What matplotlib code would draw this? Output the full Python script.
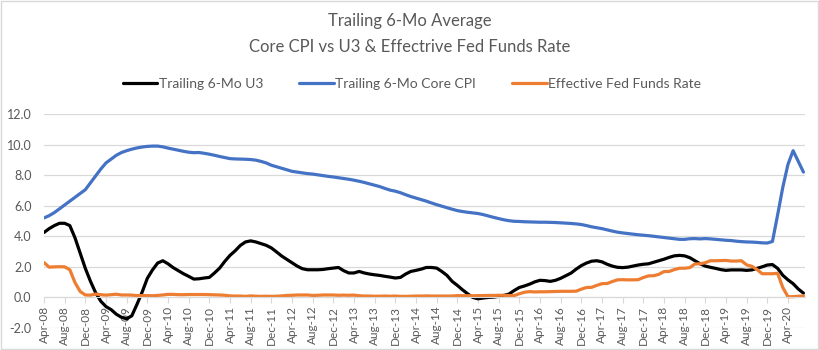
import numpy as np
import pandas as pd
import matplotlib
matplotlib.use('Agg')
import matplotlib.pyplot as plt
from matplotlib.patches import Rectangle
from matplotlib.ticker import FormatStrFormatter

# monthly, Apr-08 .. Jul-20
months = pd.date_range('2008-04-01', periods=148, freq='MS')
month_labels = [d.strftime('%b-%y') for d in months]

u3 = [
    4.25, 4.5, 4.7, 4.85, 4.85, 4.7, 3.9, 2.9, 1.9,                       # 2008 Apr-Dec
    1.05, 0.3, -0.25, -0.6, -0.8, -1.1, -1.3, -1.4, -1.2, -0.45, 0.35, 1.25,  # 2009
    1.8, 2.25, 2.4, 2.2, 1.95, 1.75, 1.55, 1.38, 1.2, 1.22, 1.27, 1.31,   # 2010
    1.6, 1.92, 2.36, 2.75, 3.05, 3.4, 3.63, 3.7, 3.63, 3.52, 3.41, 3.24,  # 2011
    2.98, 2.71, 2.49, 2.27, 2.05, 1.88, 1.81, 1.81, 1.81, 1.83, 1.88, 1.92,  # 2012
    1.96, 1.75, 1.6, 1.6, 1.7, 1.6, 1.53, 1.48, 1.44, 1.38, 1.33, 1.27,   # 2013
    1.31, 1.53, 1.7, 1.77, 1.85, 1.96, 1.96, 1.92, 1.7, 1.44, 1.05, 0.79,  # 2014
    0.5, 0.24, 0.0, -0.09, -0.04, 0.0, 0.02, 0.07, 0.13, 0.22, 0.45, 0.65,  # 2015
    0.75, 0.87, 1.02, 1.12, 1.1, 1.05, 1.12, 1.25, 1.42, 1.59, 1.85, 2.08,  # 2016
    2.25, 2.37, 2.4, 2.33, 2.17, 2.05, 1.97, 1.95, 1.98, 2.05, 2.12, 2.17,  # 2017
    2.2, 2.3, 2.4, 2.5, 2.62, 2.72, 2.75, 2.72, 2.6, 2.4, 2.2, 2.05,      # 2018
    1.97, 1.9, 1.82, 1.77, 1.8, 1.8, 1.8, 1.77, 1.8, 1.9, 2.0, 2.12,      # 2019
    2.15, 1.9, 1.45, 1.15, 0.9, 0.55, 0.28,                               # 2020 Jan-Jul
]

core_cpi = [
    5.2, 5.35, 5.55, 5.8, 6.05, 6.3, 6.55, 6.8, 7.05,
    7.5, 7.95, 8.4, 8.8, 9.05, 9.3, 9.48, 9.6, 9.7, 9.78, 9.84, 9.88,
    9.9, 9.9, 9.85, 9.77, 9.7, 9.63, 9.56, 9.5, 9.47, 9.48, 9.43, 9.37,
    9.3, 9.22, 9.15, 9.08, 9.06, 9.05, 9.04, 9.02, 8.98, 8.9, 8.8, 8.65,
    8.55, 8.45, 8.35, 8.25, 8.2, 8.15, 8.1, 8.07, 8.02, 7.97, 7.92, 7.88,
    7.83, 7.78, 7.73, 7.67, 7.6, 7.52, 7.43, 7.34, 7.25, 7.13, 7.02, 6.95,
    6.85, 6.72, 6.6, 6.5, 6.4, 6.3, 6.18, 6.07, 5.97, 5.87, 5.77, 5.68,
    5.62, 5.57, 5.53, 5.49, 5.42, 5.33, 5.24, 5.16, 5.08, 5.02, 4.98, 4.97,
    4.95, 4.94, 4.93, 4.92, 4.92, 4.91, 4.9, 4.88, 4.86, 4.84, 4.81, 4.77,
    4.7, 4.62, 4.56, 4.5, 4.42, 4.34, 4.27, 4.22, 4.18, 4.14, 4.1, 4.07,
    4.04, 4.0, 3.96, 3.92, 3.88, 3.84, 3.8, 3.8, 3.84, 3.85, 3.83, 3.85,
    3.83, 3.8, 3.77, 3.74, 3.72, 3.68, 3.65, 3.63, 3.62, 3.6, 3.57, 3.56,
    3.66, 5.4, 7.2, 8.7, 9.6, 8.9, 8.2,
]

fed_funds = [
    2.28, 1.98, 2.0, 2.01, 2.0, 1.81, 0.97, 0.39, 0.16,
    0.15, 0.22, 0.18, 0.15, 0.18, 0.21, 0.16, 0.16, 0.15, 0.12, 0.12, 0.12,
    0.11, 0.13, 0.16, 0.2, 0.2, 0.18, 0.18, 0.19, 0.19, 0.19, 0.19, 0.18,
    0.17, 0.16, 0.14, 0.1, 0.09, 0.09, 0.07, 0.1, 0.08, 0.07, 0.08, 0.07,
    0.08, 0.1, 0.13, 0.14, 0.16, 0.16, 0.16, 0.13, 0.14, 0.16, 0.16, 0.16,
    0.14, 0.15, 0.14, 0.15, 0.11, 0.09, 0.09, 0.08, 0.08, 0.09, 0.08, 0.09,
    0.07, 0.07, 0.08, 0.09, 0.09, 0.1, 0.09, 0.09, 0.09, 0.09, 0.09, 0.12,
    0.11, 0.11, 0.11, 0.12, 0.12, 0.13, 0.13, 0.14, 0.14, 0.12, 0.12, 0.24,
    0.34, 0.38, 0.36, 0.37, 0.37, 0.38, 0.39, 0.4, 0.4, 0.4, 0.41, 0.54,
    0.65, 0.66, 0.79, 0.9, 0.91, 1.04, 1.15, 1.16, 1.15, 1.15, 1.16, 1.3,
    1.41, 1.42, 1.51, 1.69, 1.7, 1.82, 1.91, 1.91, 1.95, 2.19, 2.2, 2.27,
    2.4, 2.4, 2.41, 2.42, 2.38, 2.38, 2.4, 2.13, 2.04, 1.83, 1.55, 1.55,
    1.55, 1.58, 0.65, 0.05, 0.05, 0.08, 0.09,
]

plt.rcParams['font.family'] = ['Lato', 'DejaVu Sans']
text_color = '#595959'
grid_color = '#D9D9D9'

fig = plt.figure(figsize=(8.2, 3.5), dpi=100)
ax = fig.add_axes([44 / 820, 1 - 328 / 350, (805 - 44) / 820, (328 - 114) / 350])

x = np.arange(len(months))
ax.plot(x, u3, color='black', lw=2.3, label='Trailing 6-Mo U3', solid_capstyle='round')
ax.plot(x, core_cpi, color='#4472C4', lw=2.3, label='Trailing 6-Mo Core CPI', solid_capstyle='round')
ax.plot(x, fed_funds, color='#ED7D31', lw=2.3, label='Effective Fed Funds Rate', solid_capstyle='round')

ax.set_ylim(-2, 12)
ax.set_xlim(0, len(months) - 0.7)
ax.tick_params(axis='y', length=0, labelsize=9, labelcolor=text_color, pad=9)
ax.tick_params(axis='x', length=4, color=grid_color, pad=2, labelrotation=90,
               labelsize=8.5, labelcolor=text_color)
ax.set_yticks(np.arange(-2, 13, 2))
ax.yaxis.set_major_formatter(FormatStrFormatter('%.1f'))
ax.set_xticks(x[::4])
ax.set_xticklabels(month_labels[::4])

ax.grid(axis='y', color=grid_color, lw=0.9)
ax.set_axisbelow(True)
for side in ['left', 'right', 'top']:
    ax.spines[side].set_visible(False)
ax.spines['bottom'].set_position(('data', 0))
ax.spines['bottom'].set_color(grid_color)

fig.text(0.5, 1 - 21 / 350, 'Trailing 6-Mo Average', ha='center', va='center',
         fontsize=12, color=text_color)
fig.text(0.5, 1 - 47 / 350, 'Core CPI vs U3 & Effectrive Fed Funds Rate', ha='center', va='center',
         fontsize=12, color=text_color)

fig.legend(loc='center', bbox_to_anchor=(412 / 820, 1 - 84 / 350), ncol=3, frameon=False,
           fontsize=10, labelcolor=text_color, handlelength=2.5, handletextpad=0.1,
           columnspacing=2.6)

fig.add_artist(Rectangle((0.001, 0.002), 0.997, 0.995, transform=fig.transFigure,
                         fill=False, ec=grid_color, lw=1))

fig.savefig('out.png', dpi=100)
